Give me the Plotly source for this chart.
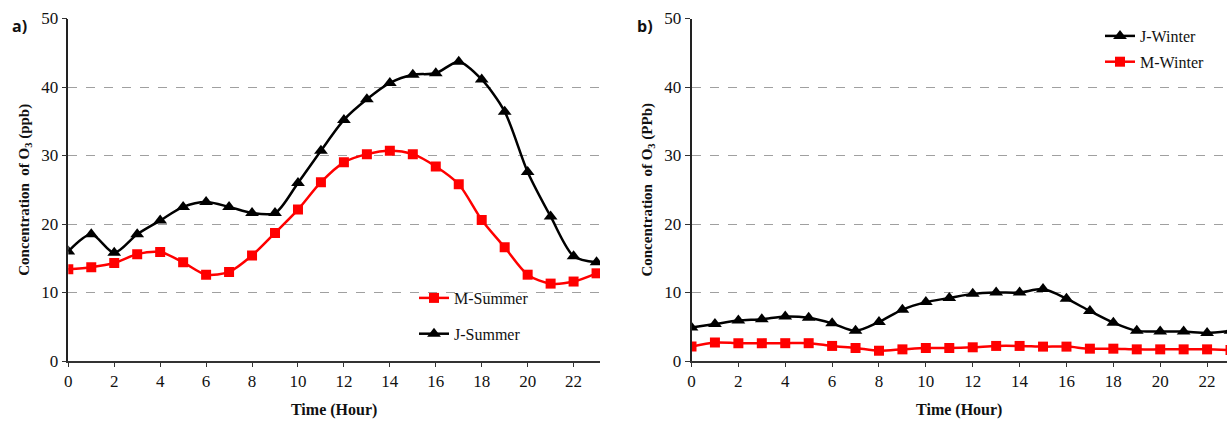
import plotly.graph_objects as go

hours = list(range(24))
j_summer = [16.0, 18.5, 15.8, 18.5, 20.5, 22.5, 23.2, 22.5, 21.6, 21.6, 26.0, 30.7,
            35.2, 38.2, 40.6, 41.8, 42.0, 43.7, 41.1, 36.4, 27.6, 21.1, 15.3, 14.4]
m_summer = [13.4, 13.7, 14.3, 15.6, 15.9, 14.4, 12.6, 13.0, 15.4, 18.7, 22.1, 26.1,
            29.0, 30.2, 30.7, 30.2, 28.4, 25.8, 20.6, 16.6, 12.6, 11.3, 11.6, 12.8]
j_winter = [4.9, 5.4, 5.9, 6.1, 6.5, 6.3, 5.5, 4.4, 5.7, 7.5, 8.6, 9.2,
            9.8, 10.0, 10.0, 10.5, 9.1, 7.3, 5.6, 4.4, 4.3, 4.3, 4.1, 4.4]
m_winter = [2.1, 2.7, 2.6, 2.6, 2.6, 2.6, 2.2, 1.9, 1.5, 1.7, 1.9, 1.9,
            2.0, 2.2, 2.2, 2.1, 2.1, 1.8, 1.8, 1.7, 1.7, 1.7, 1.7, 1.6]

x_ticks = list(range(0, 24, 2))
y_ticks = [0, 10, 20, 30, 40, 50]

RED = "#ff0000"
BLK = "#000000"
SERIF = "Liberation Serif"

fig = go.Figure()

def add(x, y, name, color, symbol, size, xa, ya, legend, group):
    fig.add_trace(go.Scatter(
        x=x, y=y, name=name, mode="lines+markers",
        line=dict(color=color, width=2.5, shape="spline", smoothing=0.8),
        marker=dict(symbol=symbol, size=size, color=color),
        xaxis=xa, yaxis=ya, legend=legend, legendgroup=group,
        cliponaxis=True,
    ))

add(hours, m_summer, "M-Summer", RED, "square", 10, "x", "y", "legend", "a1")
add(hours, j_summer, "J-Summer", BLK, "triangle-up", 12, "x", "y", "legend", "a2")
add(hours, j_winter, "J-Winter", BLK, "triangle-up", 12, "x2", "y2", "legend2", "b1")
add(hours, m_winter, "M-Winter", RED, "square", 10, "x2", "y2", "legend2", "b2")

W, H = 1227, 421
ydom = [(H - 361) / H, (H - 18.5) / H]

xcommon = dict(
    tickvals=x_ticks, ticks="outside", ticklen=4, tickcolor="#333", showgrid=False,
    showline=True, linecolor="#333", linewidth=1.5, zeroline=False, automargin=False,
    tickfont=dict(family=SERIF, size=17, color="#111"),
    title=dict(text="<b>Time (Hour)</b>", font=dict(family=SERIF, size=16, color="#111"), standoff=14),
)
ycommon = dict(
    range=[0, 50], tickvals=y_ticks, ticks="outside", ticklen=5, tickcolor="#333",
    showgrid=True, gridcolor="#a0a0a0", griddash="dash", gridwidth=1,
    showline=True, linecolor="#222", linewidth=1.5, zeroline=False, automargin=False,
    tickfont=dict(family=SERIF, size=17, color="#111"),
)

fig.update_layout(
    width=W, height=H,
    font=dict(family=SERIF, size=17, color="#111"),
    margin=dict(l=0, r=0, t=0, b=0),
    paper_bgcolor="white", plot_bgcolor="white",
    showlegend=True,
    xaxis=dict(domain=[68.3 / W, 600 / W], range=[0, 23.15], anchor="y", **xcommon),
    yaxis=dict(domain=ydom, anchor="x",
               title=dict(text="<b>Concentration  of O<sub>3</sub> (ppb)</b>",
                          font=dict(family=SERIF, size=15, color="#111"), standoff=8),
               **ycommon),
    xaxis2=dict(domain=[691.5 / W, 1.0], range=[0, 22.85], anchor="y2", **xcommon),
    yaxis2=dict(domain=ydom, anchor="x2",
                title=dict(text="<b>Concentration  of O<sub>3</sub> (PPb)</b>",
                           font=dict(family=SERIF, size=15, color="#111"), standoff=8),
                **ycommon),
    legend=dict(x=414 / W, y=(H - 281) / H, xanchor="left", yanchor="top",
                bgcolor="rgba(0,0,0,0)", tracegroupgap=12, itemwidth=30,
                font=dict(family=SERIF, size=16, color="#111")),
    legend2=dict(x=1100 / W, y=(H - 19) / H, xanchor="left", yanchor="top",
                 bgcolor="rgba(0,0,0,0)", tracegroupgap=2, itemwidth=30,
                 font=dict(family=SERIF, size=16, color="#111")),
    annotations=[
        dict(text="<b>a)</b>", x=10 / W, y=(H - 26) / H, xref="paper", yref="paper",
             xanchor="left", yanchor="middle", showarrow=False,
             font=dict(family="Open Sans", size=16, color="#111")),
        dict(text="<b>b)</b>", x=635 / W, y=(H - 26) / H, xref="paper", yref="paper",
             xanchor="left", yanchor="middle", showarrow=False,
             font=dict(family="Open Sans", size=16, color="#111")),
    ],
)

fig.write_html("out.html")
